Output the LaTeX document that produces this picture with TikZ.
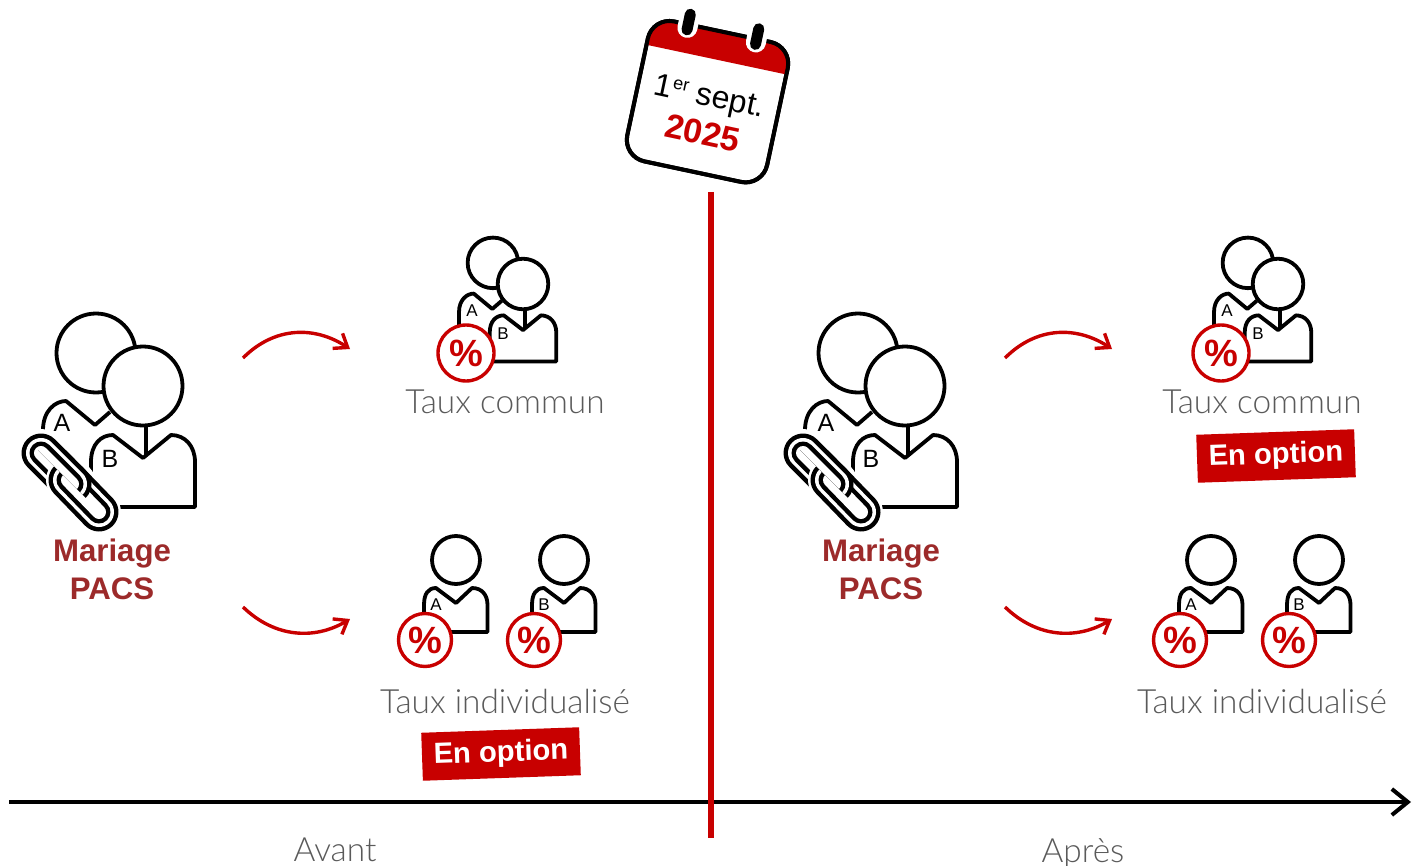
\documentclass[tikz,border=0pt]{standalone}
\usepackage{fontspec}
\setmainfont{Liberation Sans}
\newfontfamily\lightfont{Lato Light}
\usetikzlibrary{arrows.meta}
\definecolor{rougefort}{HTML}{C80000}
\definecolor{rougesombre}{HTML}{9C2A2A}
\definecolor{grisclair}{HTML}{5A5A5A}
\tikzset{
	trait/.style={draw=black,line width=1.9pt,line join=round},
	fleche/.style={draw=rougefort,line width=1.7pt,-{Straight Barb[length=6pt,width=9pt]}},
	legende/.style={text=grisclair,font=\lightfont\fontsize{16.7}{18}\selectfont,inner sep=0pt},
	lien/.style={text=rougesombre,font=\bfseries\fontsize{15.6}{18}\selectfont,inner sep=0pt},
	lettre/.style={font=\fontsize{#1}{#1}\selectfont,inner sep=0pt},
	pourcent/.style={circle,draw=rougefort,fill=white,line width=1.7pt,inner sep=0pt,minimum size=#1,text=rougefort,font=\bfseries\fontsize{19}{19}\selectfont},
	option/.style={fill=rougefort,text=white,font=\bfseries\fontsize{14.6}{18}\selectfont,minimum width=79pt,minimum height=24pt,inner sep=0pt,rotate=2},
	couple/.pic={
		\draw[trait] (-47,-33) circle (39.5);
		\draw[trait] (-100,70) -- (-100,44) .. controls (-100,25) and (-88,15) .. (-77,15) -- (-48,39) -- (-33,26);
		\draw[trait,fill=white] (0,0) circle (39.5);
		\draw[trait,fill=white] (-52,121) -- (-52,76) .. controls (-52,58) and (-42,49) .. (-30,49) -- (0,72) -- (28,49) .. controls (42,49) and (52,60) .. (52,76) -- (52,121) -- cycle;
		\draw[trait] (3,39) -- (3,69);
	},
	personne/.pic={
		\draw[trait,fill=white] (0,0) circle (24);
		\draw[trait,fill=white] (-32,72) -- (-32,45) .. controls (-32,34) and (-28,28) .. (-20,28) -- (0,43) -- (16,28) .. controls (26,28) and (31.5,35) .. (31.5,45) -- (31.5,72) -- cycle;
	},
	chaine/.pic={
		\foreach \w/\c in {24/white,19.5/black,15/white,11.5/black,7/white}
			\draw[line width=\w pt,line cap=round,\c] (41,453) -- (72,484);
		\foreach \w/\c in {22/white,19.5/black,15/white,11.5/black,7/white}
			\draw[line width=\w pt,line cap=round,\c] (68,480) -- (99,512);
		\begin{scope}
			\clip (38,450) -- (112,450) -- (112,524) -- cycle;
			\foreach \w/\c in {19.5/black,15/white,11.5/black,7/white}
				\draw[line width=\w pt,line cap=round,\c] (41,453) -- (72,484);
		\end{scope}
	}
}
\begin{document}
\begin{tikzpicture}[x=0.5pt,y=-0.5pt]
\useasboundingbox (0,0) rectangle (1422,866);

% grands couples
\foreach \n/\x/\a/\b in {1/0/62/110,2/762/826/871}{
	\pic at (143+\x,386) {couple};
	\begin{scope}[xshift=\x*0.5pt]
		\pic {chaine};
	\end{scope}
	\node[lettre=12.5] (lettreA\n) at (\a,423) {A};
	\node[lettre=12.5] (lettreB\n) at (\b,459) {B};
}
\node[lien] (mariage1) at (112,553) {Mariage};
\node[lien] (pacs1) at (112,589) {PACS};
\node[lien] (mariage2) at (881,553) {Mariage};
\node[lien] (pacs2) at (881,589) {PACS};

% taux commun
\foreach \n/\x in {1/0,2/755}{
	\pic[scale=0.64] at (523+\x,284) {couple};
	\node[lettre=8.5] (petitA\n) at (472+\x,311) {A};
	\node[lettre=8.5] (petitB\n) at (503+\x,334) {B};
	\node[pourcent=28pt] (badge\n) at (466+\x,353) {\%};
}
\node[legende] (commun1) at (505,402) {Taux commun};
\node[legende] (commun2) at (1262,402) {Taux commun};

% taux individualise
\foreach \n/\x in {1/0,2/755}{
	\pic at (456+\x,560) {personne};
	\pic at (564+\x,560) {personne};
	\node[lettre=8.5] (soloA\n) at (436+\x,605) {A};
	\node[lettre=8.5] (soloB\n) at (544+\x,605) {B};
	\node[pourcent=26.5pt] (badgeA\n) at (425+\x,640) {\%};
	\node[pourcent=26.5pt] (badgeB\n) at (534+\x,640) {\%};
}
\node[legende] (indiv1) at (505,701) {Taux individualisé};
\node[legende] (indiv2) at (1262,701) {Taux individualisé};

\node[option] (option1) at (501,754) {\raisebox{-1pt}{En option}};
\node[option] (option2) at (1276,456) {\raisebox{-1pt}{En option}};

% fleches
\foreach \n/\x in {1/0,2/762}{
	\coordinate (hautA\n) at (243+\x,358);
	\coordinate (hautB\n) at (350+\x,349);
	\coordinate (basA\n) at (243+\x,607);
	\coordinate (basB\n) at (350+\x,619);
	\draw[fleche] (hautA\n) .. controls (275+\x,326) and (315+\x,326) .. (hautB\n);
	\draw[fleche] (basA\n) .. controls (275+\x,638) and (315+\x,640) .. (basB\n);
}

% axe du temps
\coordinate (axeA) at (9,802);
\coordinate (axeB) at (1411,802);
\draw[line width=2pt,-{Straight Barb[length=8pt,width=13pt]}] (axeA) -- (axeB);
\coordinate (dateA) at (711,192);
\coordinate (dateB) at (711,838);
\draw[rougefort,line width=3pt] (dateA) -- (dateB);
\node[legende] (avant) at (335,850) {Avant};
\node[legende] (apres) at (1083,853) {Après};

% calendrier
\begin{scope}[shift={(707.5,101.7)},rotate=-12]
	\draw[line width=2pt,fill=white,rounded corners=11pt] (-71.5,-71.5) rectangle (71.5,71.5);
	\begin{scope}
		\clip[rounded corners=11pt] (-71.5,-71.5) rectangle (71.5,71.5);
		\fill[rougefort] (-72,-72) rectangle (72,-43);
	\end{scope}
	\draw[line width=2pt,rounded corners=11pt] (-71.5,-71.5) rectangle (71.5,71.5);
	\foreach \u in {-35,35}{
		\draw[white,line width=10pt,line cap=round] (\u,-80) -- (\u,-68);
		\draw[black,line width=5.5pt,line cap=round] (\u,-82) -- (\u,-66);
	}
	\node[lettre=16,transform shape] (jour) at (1,-3.5) {1\raisebox{5pt}{\fontsize{9}{9}\selectfont er} sept.};
	\node[lettre=17,transform shape,text=rougefort] (annee) at (2,31.5) {\bfseries 2025};
\end{scope}
\end{tikzpicture}
\end{document}
